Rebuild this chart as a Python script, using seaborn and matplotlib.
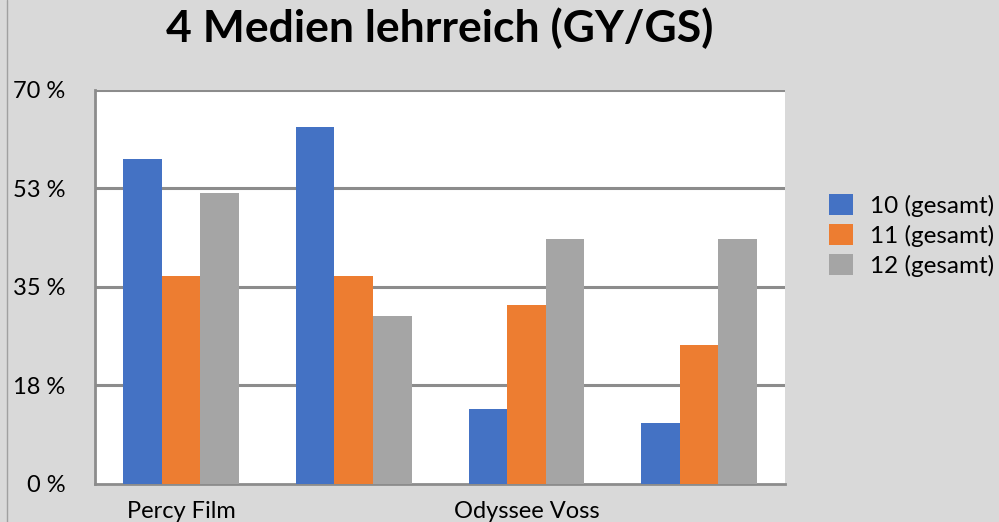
import matplotlib.pyplot as plt
import seaborn as sns
import numpy as np
import pandas as pd
from matplotlib.lines import Line2D

categories = ["Percy Film", "Medium 2", "Odyssee Voss", "Medium 4"]
tick_labels = ["Percy Film", "", "Odyssee Voss", ""]
series = ["10 (gesamt)", "11 (gesamt)", "12 (gesamt)"]
klasse_10 = [57.7, 63.4, 13.3, 10.8]
klasse_11 = [36.9, 36.9, 31.8, 24.7]
klasse_12 = [51.7, 29.8, 43.5, 43.5]
colors = ["#4472c4", "#ed7d31", "#a5a5a5"]

df = pd.DataFrame({
    "Medium": categories * 3,
    "Gruppe": [s for s in series for _ in categories],
    "Wert": klasse_10 + klasse_11 + klasse_12,
})

sns.set_style("white")
plt.rcParams["font.family"] = ["Lato", "DejaVu Sans"]
plt.rcParams["text.color"] = "black"
plt.rcParams["xtick.color"] = "black"
plt.rcParams["ytick.color"] = "black"

fig = plt.figure(figsize=(9.99, 5.22), dpi=100, facecolor="#d9d9d9")
ax = fig.add_axes([0.095, 0.0728, 0.691, 0.7548])
ax.set_facecolor("white")

sns.barplot(data=df, x="Medium", y="Wert", hue="Gruppe", hue_order=series,
            palette=colors, width=0.67, saturation=1, linewidth=0, ax=ax, zorder=3)

ax.set_ylim(0, 70)
ax.set_xlim(-0.5, 3.5)
yt = [0, 17.5, 35, 52.5, 70]
ax.set_yticks(yt)
ax.set_yticklabels(["0 %", "18 %", "35 %", "53 %", "70 %"], fontsize=17)
for y in yt[1:]:
    ax.axhline(y, color="#8c8c8c", lw=2.2, zorder=1)

ax.set_xticks([-0.5, 0.5, 1.5, 2.5, 3.5])
ax.set_xticks(range(4), minor=True)
ax.set_xticklabels([])
ax.set_xticklabels(tick_labels, minor=True, fontsize=17)
ax.tick_params(axis="x", which="major", length=7, width=2, color="#8c8c8c", direction="out")
ax.tick_params(axis="x", which="minor", length=0, pad=12)
ax.tick_params(axis="y", length=7, width=2, color="#8c8c8c", direction="out", pad=14)

for side in ["top", "right"]:
    ax.spines[side].set_visible(False)
for side in ["left", "bottom"]:
    ax.spines[side].set_color("#8c8c8c")
    ax.spines[side].set_linewidth(2)

ax.set_xlabel("")
ax.set_ylabel("")

ax.legend(loc="center left", bbox_to_anchor=(1.05, 0.63), frameon=False,
          fontsize=17.5, handlelength=0.95, handleheight=0.95, labelspacing=0.3,
          handletextpad=0.7, borderaxespad=0)

fig.suptitle("4 Medien lehrreich (GY/GS)", x=0.44, y=0.985, fontsize=32, fontweight="bold")
fig.add_artist(Line2D([0.007, 0.007], [0, 1], transform=fig.transFigure, color="#a0a0a0", lw=1))

fig.savefig("out.png", dpi=100, facecolor=fig.get_facecolor())
